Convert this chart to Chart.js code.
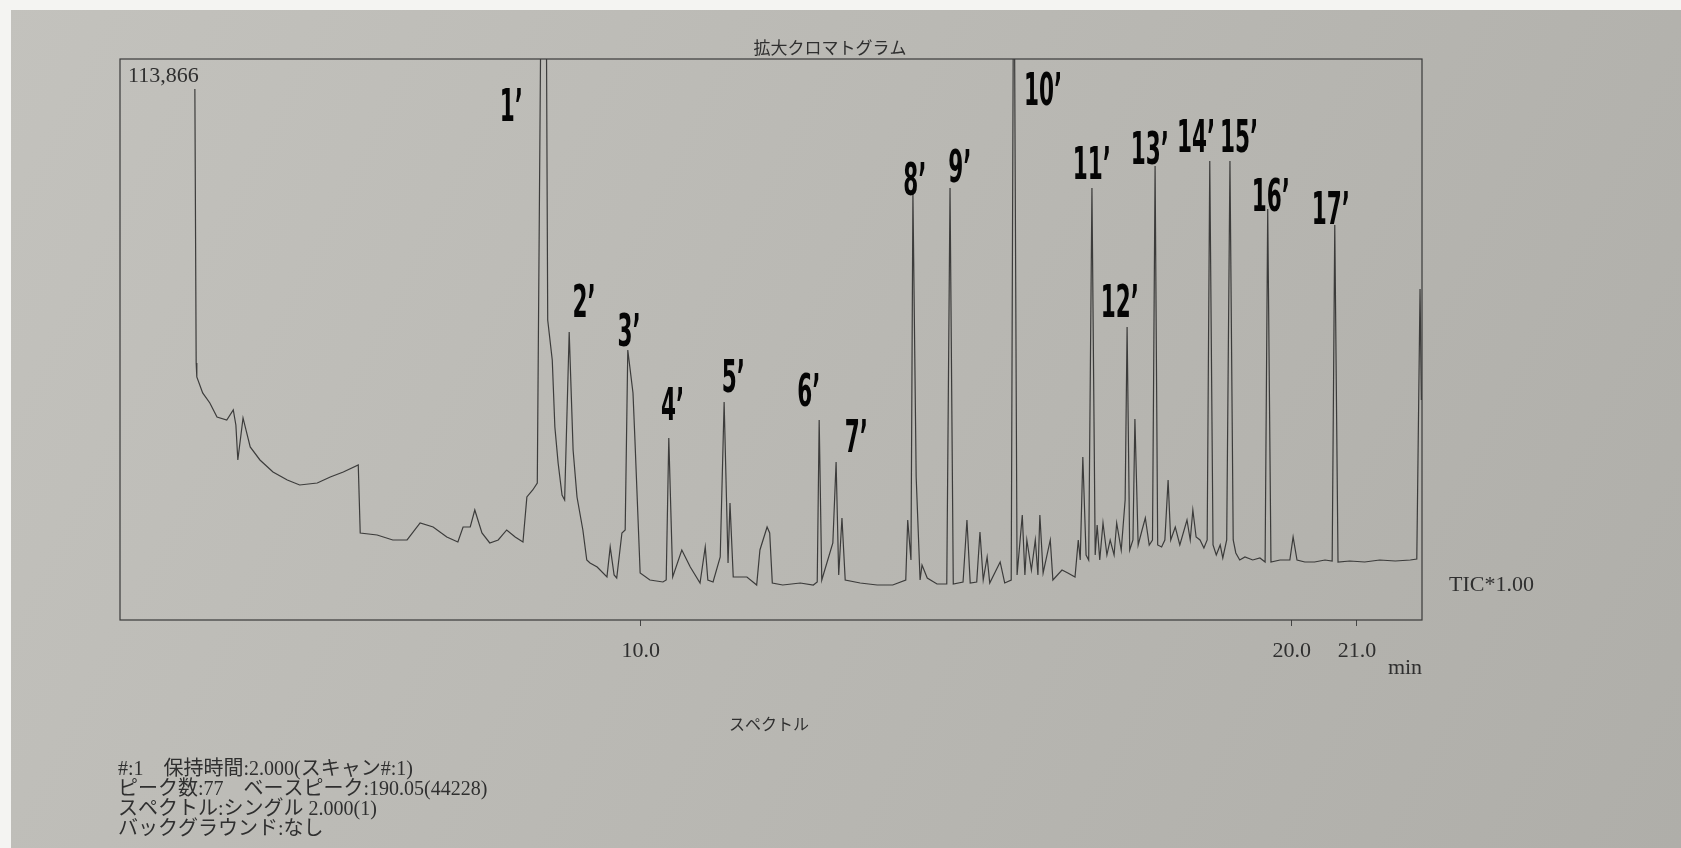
<!DOCTYPE html>
<html lang="ja">
<head>
    <meta charset="UTF-8">
    <title>拡大クロマトグラム</title>
    <!-- Chart.js CDN -->
    <script src="https://cdn.jsdelivr.net/npm/chart.js@4.4.1/dist/chart.umd.min.js"></script>
    <style>
        html, body {
            margin: 0;
            padding: 0;
            overflow: hidden;
            background: #bbbab5;
        }
        canvas { display: block; }
    </style>
</head>
<body>
    <canvas id="chromChart" width="1681" height="848"></canvas>

    <script>
        // Retention time (min) of each trace point
        const RT = [
            3.15, 3.17, 3.18, 3.27, 3.38, 3.49, 3.64, 3.74, 3.78, 3.81,
            3.89, 4.00, 4.15, 4.35, 4.57, 4.76, 5.03, 5.23, 5.43, 5.66,
            5.69, 5.95, 6.19, 6.41, 6.61, 6.81, 7.02, 7.19, 7.27, 7.38,
            7.45, 7.56, 7.68, 7.81, 7.94, 8.07, 8.19, 8.25, 8.34, 8.41,
            8.48, 8.54, 8.57, 8.64, 8.68, 8.73, 8.79, 8.83, 8.90, 8.96,
            9.02, 9.11, 9.17, 9.22, 9.33, 9.48, 9.53, 9.59, 9.63, 9.71,
            9.76, 9.80, 9.88, 9.91, 9.99, 10.14, 10.34, 10.39, 10.43, 10.49,
            10.63, 10.76, 10.91, 10.99, 11.03, 11.11, 11.22, 11.28, 11.34, 11.37,
            11.42, 11.63, 11.78, 11.83, 11.94, 11.98, 12.02, 12.18, 12.45, 12.65,
            12.71, 12.74, 12.78, 12.95, 13.00, 13.04, 13.09, 13.14, 13.37, 13.63,
            13.87, 14.07, 14.10, 14.15, 14.18, 14.23, 14.29, 14.32, 14.40, 14.55,
            14.70, 14.75, 14.80, 14.95, 15.01, 15.06, 15.16, 15.21, 15.26, 15.32,
            15.36, 15.52, 15.59, 15.69, 15.73, 15.78, 15.86, 15.90, 15.93, 16.00,
            16.06, 16.10, 16.13, 16.18, 16.29, 16.33, 16.47, 16.56, 16.67, 16.72,
            16.75, 16.79, 16.84, 16.88, 16.93, 16.98, 17.01, 17.05, 17.10, 17.16,
            17.21, 17.27, 17.31, 17.38, 17.44, 17.47, 17.51, 17.56, 17.59, 17.64,
            17.70, 17.75, 17.81, 17.86, 17.90, 17.94, 18.00, 18.05, 18.10, 18.14,
            18.21, 18.28, 18.39, 18.44, 18.48, 18.53, 18.59, 18.65, 18.70, 18.74,
            18.79, 18.84, 18.90, 18.94, 19.00, 19.05, 19.10, 19.14, 19.20, 19.28,
            19.40, 19.51, 19.59, 19.63, 19.68, 19.82, 19.97, 20.02, 20.08, 20.20,
            20.35, 20.51, 20.62, 20.66, 20.71, 20.89, 21.12, 21.35, 21.59, 21.82,
            21.92, 21.97, 21.99
        ];

        // Total ion current (counts) at each retention time
        const TIC = [
            107793, 52171, 49329, 46081, 44051, 41209, 40600, 42630, 39585, 32480,
            41006, 35119, 32480, 30044, 28420, 27405, 27811, 29029, 30044, 31465,
            17661, 17255, 16240, 16240, 19691, 18879, 16849, 15834, 18879, 18879,
            22330, 17661, 15631, 16240, 18270, 16849, 15834, 24969, 26390, 27811,
            150000, 150000, 60900, 52780, 39179, 31871, 25375, 24360, 58464, 34510,
            24969, 18270, 12180, 11571, 10759, 8729, 14819, 9135, 8526, 17661,
            18270, 54810, 46081, 36540, 9541, 8120, 7714, 8120, 36946, 8729,
            14210, 10759, 7511, 14819, 8120, 7714, 12789, 44254, 11571, 23751,
            8729, 8729, 7105, 14210, 18879, 17661, 7511, 7105, 7511, 7105,
            7714, 40600, 8120, 15631, 32074, 9135, 20706, 8120, 7511, 7105,
            7105, 8120, 20300, 12180, 86681, 29029, 8120, 11165, 8526, 7308,
            7308, 87696, 7308, 7714, 20300, 7511, 7714, 17864, 8120, 12789,
            7511, 11774, 7511, 8120, 150000, 9135, 21315, 9135, 16240, 10150,
            16240, 9135, 21315, 9541, 16240, 8120, 10150, 9541, 8729, 16240,
            12180, 33089, 13195, 12180, 87696, 13195, 19285, 12180, 19691, 13195,
            16240, 13195, 19691, 14210, 24360, 59479, 14210, 16240, 40803, 15225,
            18270, 20706, 15225, 16240, 92162, 15225, 14819, 16240, 28420, 16240,
            18879, 15225, 20300, 16240, 22330, 16849, 16240, 14616, 16240, 93177,
            15225, 13195, 15225, 12586, 16240, 93177, 16240, 13601, 12180, 12789,
            12180, 12586, 11774, 83433, 11774, 12180, 12180, 16849, 12180, 11774,
            11774, 12180, 11977, 80185, 11774, 11977, 11774, 12180, 11977, 12180,
            12383, 67193, 44660
        ];

        const Y_MAX = 113866;           // full scale printed in the corner
        const X_MIN = 2.0;
        const X_MAX = 22.0;
        const X_TICKS = [10.0, 20.0, 21.0];

        // Hand-written peak numbers and where they sit (min, counts)
        const PEAK_NAMES = ['1’', '2’', '3’', '4’', '5’', '6’', '7’', '8’', '9’', '10’',
                            '11’', '12’', '13’', '14’', '15’', '16’', '17’'];
        const PEAK_LABEL_RT = [8.01, 9.13, 9.82, 10.49, 11.42, 12.58, 13.31, 14.21, 14.90, 16.18,
                               16.93, 17.36, 17.82, 18.53, 19.19, 19.68, 20.60];
        const PEAK_LABEL_Y = [101297, 61509, 55622, 40600, 46284, 43442, 34104, 86275, 88914, 104545,
                              89523, 61509, 92568, 95004, 95004, 83027, 80388];

        const TITLE = '拡大クロマトグラム';
        const SCALE_LABEL = '113,866';
        const TRACE_LABEL = 'TIC*1.00';
        const UNIT_LABEL = 'min';
        const SPECTRUM_TITLE = 'スペクトル';
        const INFO_LINES = [
            '#:1　保持時間:2.000(スキャン#:1)',
            'ピーク数:77　ベースピーク:190.05(44228)',
            'スペクトル:シングル 2.000(1)',
            'バックグラウンド:なし'
        ];

        const SERIF = "'Liberation Serif', 'Noto Sans CJK JP', serif";
        const INK = '#2f2f2f';

        // Paper background, white margins of the photo
        const paperPlugin = {
            id: 'paper',
            beforeDraw(chart) {
                const ctx = chart.ctx;
                const w = chart.width, h = chart.height;
                ctx.save();
                const g = ctx.createLinearGradient(0, 0, w, h);
                g.addColorStop(0, '#c3c2bd');
                g.addColorStop(1, '#afaea9');
                ctx.fillStyle = g;
                ctx.fillRect(0, 0, w, h);
                ctx.fillStyle = '#f4f4f2';
                ctx.fillRect(0, 0, w, 10);
                ctx.fillRect(0, 0, 11, h);
                ctx.restore();
            }
        };

        // Frame, printed texts and the peak numbers
        const annotatePlugin = {
            id: 'annotate',
            afterDraw(chart) {
                const ctx = chart.ctx;
                const area = chart.chartArea;
                const xs = chart.scales.x;
                const ys = chart.scales.y;
                ctx.save();

                // plot frame
                ctx.strokeStyle = '#3a3a3a';
                ctx.lineWidth = 1.2;
                ctx.strokeRect(area.left, area.top, area.right - area.left, area.bottom - area.top);

                ctx.fillStyle = INK;
                ctx.textBaseline = 'middle';

                ctx.font = "17px 'Noto Sans CJK JP', sans-serif";
                ctx.textAlign = 'center';
                ctx.fillText(TITLE, (area.left + area.right) / 2 + 59, 48);

                ctx.font = '22px ' + SERIF;
                ctx.textAlign = 'left';
                ctx.fillText(SCALE_LABEL, area.left + 8, area.top + 17);
                ctx.fillText(TRACE_LABEL, area.right + 27, 585);
                ctx.textAlign = 'center';
                ctx.fillText(UNIT_LABEL, area.right - 17, 668);

                ctx.font = "16px 'Noto Sans CJK JP', sans-serif";
                ctx.fillText(SPECTRUM_TITLE, 769, 724);

                ctx.font = '20px ' + SERIF;
                ctx.textAlign = 'left';
                INFO_LINES.forEach((line, i) => {
                    ctx.fillText(line, 118, 770 + i * 20);
                });

                // peak numbers, bold and condensed like the marker pen
                ctx.fillStyle = '#050505';
                ctx.textAlign = 'center';
                ctx.textBaseline = 'alphabetic';
                ctx.font = "bold 44px 'Liberation Sans Narrow', 'DejaVu Sans Condensed', sans-serif";
                const sx = 15 / ctx.measureText('0').width;
                PEAK_NAMES.forEach((name, i) => {
                    const x = xs.getPixelForValue(PEAK_LABEL_RT[i]);
                    const y = ys.getPixelForValue(PEAK_LABEL_Y[i]);
                    ctx.save();
                    ctx.translate(x, y);
                    ctx.scale(sx, 1);
                    ctx.fillText(name, 0, 0);
                    ctx.restore();
                });

                ctx.restore();
            }
        };

        const points = RT.map((t, i) => ({ x: t, y: TIC[i] }));

        new Chart(document.getElementById('chromChart'), {
            type: 'line',
            data: {
                datasets: [{
                    label: 'TIC',
                    data: points,
                    borderColor: 'rgba(38, 38, 38, 0.85)',
                    borderWidth: 1.2,
                    pointRadius: 0,
                    tension: 0,
                    fill: false
                }]
            },
            options: {
                responsive: false,
                animation: false,
                devicePixelRatio: 1,
                layout: {
                    padding: { top: 59, right: 259, left: 120, bottom: 0 }
                },
                plugins: {
                    legend: { display: false },
                    tooltip: { enabled: false }
                },
                scales: {
                    x: {
                        type: 'linear',
                        min: X_MIN,
                        max: X_MAX,
                        grid: {
                            drawOnChartArea: false,
                            drawTicks: true,
                            tickLength: 6,
                            color: '#444'
                        },
                        border: { display: false },
                        ticks: {
                            autoSkip: false,
                            maxRotation: 0,
                            padding: 12,
                            color: INK,
                            font: { family: SERIF, size: 22 },
                            callback: v => v.toFixed(1)
                        },
                        afterBuildTicks: axis => {
                            axis.ticks = X_TICKS.map(v => ({ value: v }));
                        },
                        afterFit: axis => {
                            axis.height = 228;
                        }
                    },
                    y: {
                        display: false,
                        min: 0,
                        max: Y_MAX
                    }
                }
            },
            plugins: [paperPlugin, annotatePlugin]
        });
    </script>
</body>
</html>
